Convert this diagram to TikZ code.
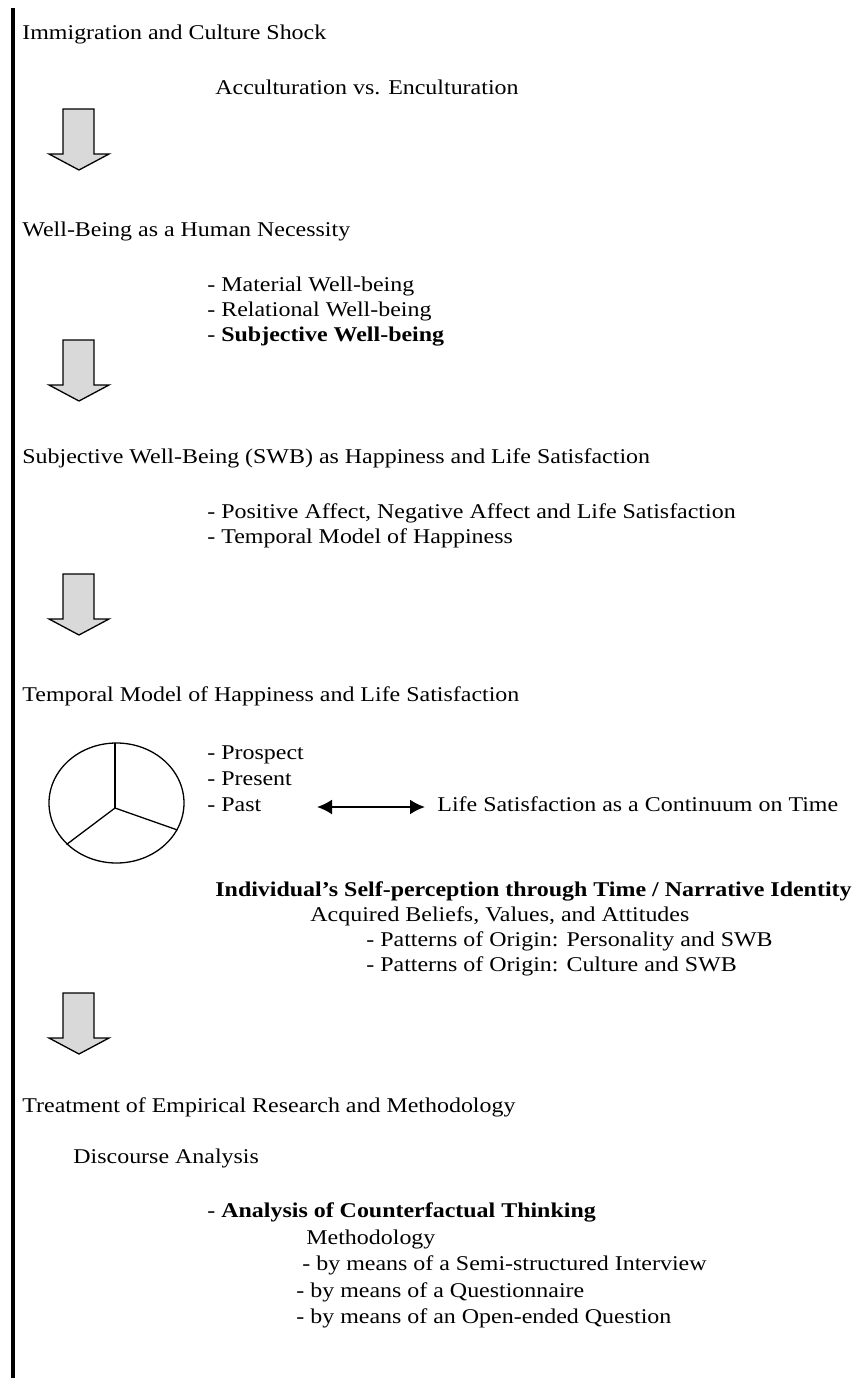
\documentclass[tikz,border=0pt]{standalone}
\usepackage{fontspec}
\setmainfont{Liberation Serif}[FakeStretch=1.14]
\usetikzlibrary{arrows.meta}
\definecolor{arrowgray}{RGB}{217,217,217}
\begin{document}
\begin{tikzpicture}[x=0.5pt,y=-0.5pt,
  txt/.style={anchor=base west,inner sep=0pt,font=\fontsize{10.5}{12}\selectfont},
  downarrow/.style={draw=black,fill=arrowgray,line width=0.65pt,line join=miter},
  downarr/.pic={\draw[downarrow] (-16,0) -- (15,0) -- (15,45) -- (30,45) -- (0,61) -- (-30,45) -- (-16,45) -- cycle;},
  outline/.style={draw=black,line width=0.65pt},
  dblarrow/.style={line width=1pt,{Latex[length=7.5pt,width=7.5pt]}-{Latex[length=7.5pt,width=7.5pt]}}]
\useasboundingbox (0,0) rectangle (857,1378);
\fill[black] (10.5,8) rectangle (15,1378);

% section 1
\node[txt] (t1) at (22,39) {Immigration and Culture Shock};
\node[txt] (t2) at (215,94) {Acculturation vs. Enculturation};
\pic at (79,109) {downarr};

% section 2
\node[txt] (t3) at (22,236) {Well-Being as a Human Necessity};
\node[txt] (t4) at (207,291) {- Material Well-being};
\node[txt] (t5) at (207,316) {- Relational Well-being};
\node[txt] (t6) at (207,341) {- \textbf{Subjective Well-being}};
\pic at (79,340) {downarr};

% section 3
\node[txt] (t7) at (22,463) {Subjective Well-Being (SWB) as Happiness and Life Satisfaction};
\node[txt] (t8) at (207,518) {- Positive Affect, Negative Affect and Life Satisfaction};
\node[txt] (t9) at (207,543) {- Temporal Model of Happiness};
\pic at (79,574) {downarr};

% section 4
\node[txt] (t10) at (22,701) {Temporal Model of Happiness and Life Satisfaction};
\draw[outline] (116.5,803) ellipse [x radius=33.75pt, y radius=30pt];
\coordinate (c0) at (115,808);
\draw[outline] (c0) -- (115,743);
\draw[outline] (c0) -- (177.5,830);
\draw[outline] (c0) -- (66.5,844.5);
\node[txt] (t11) at (207,759) {- Prospect};
\node[txt] (t12) at (207,785) {- Present};
\node[txt] (t13) at (207,811) {- Past};
\node[txt] (t14) at (437,811) {Life Satisfaction as a Continuum on Time};
\coordinate (la) at (317,807);
\coordinate (lb) at (425,807);
\draw[dblarrow] (la) -- (lb);
\node[txt] (t15) at (215,896) {\textbf{Individual’s Self-perception through Time / Narrative Identity}};
\node[txt] (t16) at (310,921) {Acquired Beliefs, Values, and Attitudes};
\node[txt] (t17) at (366,946) {- Patterns of Origin: Personality and SWB};
\node[txt] (t18) at (366,971) {- Patterns of Origin: Culture and SWB};
\pic at (79,993) {downarr};

% section 5
\node[txt] (t19) at (22,1112) {Treatment of Empirical Research and Methodology};
\node[txt] (t20) at (73,1163) {Discourse Analysis};
\node[txt] (t21) at (207,1217) {- \textbf{Analysis of Counterfactual Thinking}};
\node[txt] (t22) at (306,1244) {Methodology};
\node[txt] (t23) at (302,1270) {- by means of a Semi-structured Interview};
\node[txt] (t24) at (296,1297) {- by means of a Questionnaire};
\node[txt] (t25) at (296,1323) {- by means of an Open-ended Question};
\end{tikzpicture}
\end{document}
